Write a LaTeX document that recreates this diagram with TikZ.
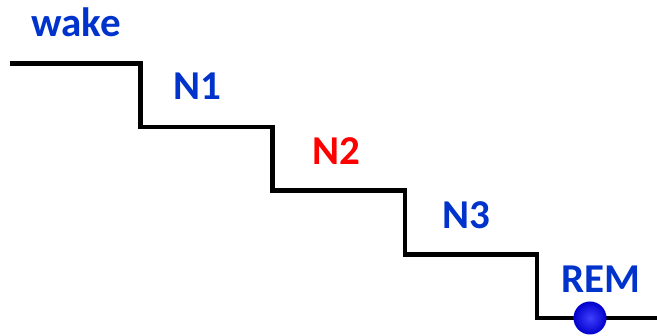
\documentclass[tikz,border=0pt]{standalone}
\usepackage{fontspec}
\setmainfont{Carlito}
\definecolor{lblblue}{RGB}{0,51,204}
\definecolor{lblred}{RGB}{255,0,0}
\begin{document}
\begin{tikzpicture}[x=1pt,y=-1pt,
  lbl/.style={anchor=base,inner sep=0pt,font=\fontsize{41}{41}\selectfont\bfseries},
  stair/.style={line width=4.5pt,black,line join=miter}]
\useasboundingbox (0,0) rectangle (657,336);
\coordinate (s0) at (10,63.5);
\coordinate (c1) at (140.5,63.5);
\coordinate (c2) at (140.5,127);
\coordinate (c3) at (272.5,127);
\coordinate (c4) at (272.5,190.5);
\coordinate (c5) at (405,190.5);
\coordinate (c6) at (405,254.5);
\coordinate (c7) at (537,254.5);
\coordinate (c8) at (537,318);
\coordinate (e) at (657,318);
\draw[stair] (s0) -- (c1) -- (c2) -- (c3) -- (c4) -- (c5) -- (c6) -- (c7) -- (c8) -- (e);
\node[lbl,text=lblblue] (wake) at (76,37) {wake};
\node[lbl,text=lblblue] (n1) at (197,100) {N1};
\node[lbl,text=lblred] (n2) at (336,165) {N2};
\node[lbl,text=lblblue] (n3) at (466,229) {N3};
\node[lbl,text=lblblue] (rem) at (601,293) {REM};
\shade[inner color=blue!75!white,outer color=blue!80!black] (590,318) circle (16.5);
\end{tikzpicture}
\end{document}
